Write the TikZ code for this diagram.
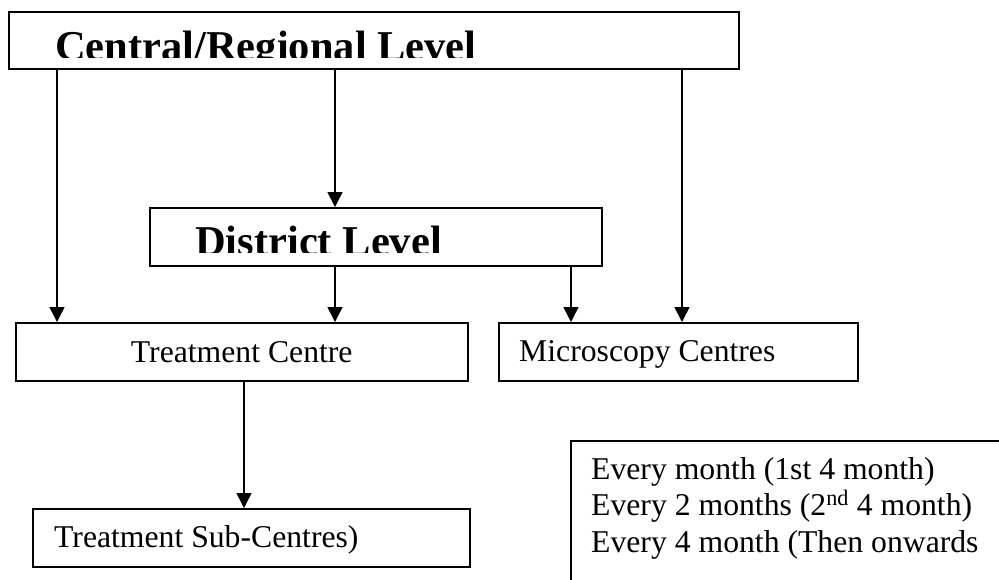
\documentclass[tikz,border=0pt]{standalone}
\usepackage{fontspec}
\setmainfont{Liberation Serif}
\usetikzlibrary{arrows.meta}

\begin{document}
\begin{tikzpicture}[x=1pt,y=-1pt,
  box/.style={draw=black, line width=1.5pt, rectangle, inner sep=0pt, anchor=north west},
  label/.style={inner sep=0pt, anchor=base west, font=\fontsize{31.7}{36}\selectfont},
  heading/.style={inner sep=0pt, anchor=base west, font=\fontsize{42.5}{48}\selectfont\bfseries},
  arr/.style={line width=1.5pt, -{Triangle[width=15pt,length=15pt]}}]

\useasboundingbox (0,0) rectangle (999,579);

% boxes
\node[box, minimum width=730pt, minimum height=57pt] (central) at (8,11) {};
\node[box, minimum width=452pt, minimum height=58pt] (district) at (149,207) {};
\node[box, minimum width=452pt, minimum height=58pt] (tc) at (15,322) {};
\node[box, minimum width=359pt, minimum height=58pt] (micro) at (498,322) {};
\node[box, minimum width=437pt, minimum height=58pt] (sub) at (32,508) {};
\node[box, minimum width=500pt, minimum height=200pt] (note) at (570,440) {};

% headings overflow their boxes and are cut off at the bottom
\begin{scope}
  \clip (8,11) rectangle (738,57.5);
  \node[heading] (centraltxt) at (55,60) {Central/Regional Level};
\end{scope}
\begin{scope}
  \clip (149,207) rectangle (601,252);
  \node[heading] (districttxt) at (195,255.8) {District Level};
\end{scope}

% box texts
\node[inner sep=0pt, font=\fontsize{31.7}{36}\selectfont] (tctxt) at (tc.center) {Treatment Centre};
\node[label] (microtxt) at (519,361) {Microscopy Centres};
\node[label] (subtxt) at (54,547) {Treatment Sub-Centres)};
\node[label] (n1) at (591,479) {Every month (1st 4 month)};
\node[label] (n2) at (591,515) {Every 2 months (2\textsuperscript{nd} 4 month)};
\node[label] (n3) at (591,552) {Every 4 month (Then onwards};

% connectors
\draw[arr] (57,0 |- central.south) -- (57,0 |- tc.north);
\draw[arr] (335,0 |- central.south) -- (335,0 |- district.north);
\draw[arr] (682,0 |- central.south) -- (682,0 |- micro.north);
\draw[arr] (335,0 |- district.south) -- (335,0 |- tc.north);
\draw[arr] (571,0 |- district.south) -- (571,0 |- micro.north);
\draw[arr] (244,0 |- tc.south) -- (244,0 |- sub.north);
\end{tikzpicture}
\end{document}
